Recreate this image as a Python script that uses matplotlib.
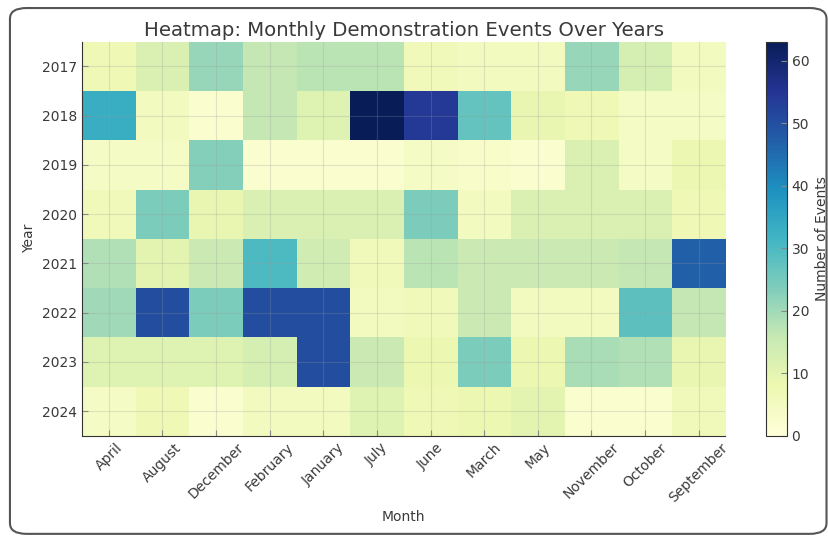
import numpy as np
import matplotlib
matplotlib.use('Agg')
import matplotlib.pyplot as plt
from matplotlib.patches import FancyBboxPatch

# Data
years = [2017, 2018, 2019, 2020, 2021, 2022, 2023, 2024]
months = ['April', 'August', 'December', 'February', 'January', 'July',
          'June', 'March', 'May', 'November', 'October', 'September']

events_2017 = [7, 12, 21, 16, 17, 17, 6, 5, 5, 21, 13, 5]
events_2018 = [33, 5, 2, 16, 11, 63, 54, 27, 9, 7, 4, 4]
events_2019 = [4, 4, 23, 2, 2, 2, 4, 3, 2, 12, 4, 8]
events_2020 = [6, 24, 9, 12, 12, 12, 24, 5, 12, 12, 12, 7]
events_2021 = [18, 10, 15, 30, 14, 6, 17, 15, 15, 15, 16, 47]
events_2022 = [20, 50, 24, 50, 50, 5, 6, 15, 5, 5, 28, 16]
events_2023 = [11, 11, 11, 13, 50, 15, 8, 24, 8, 19, 18, 9]
events_2024 = [4, 7, 2, 5, 5, 11, 7, 8, 10, 2, 2, 6]

grid = np.array([events_2017, events_2018, events_2019, events_2020,
                 events_2021, events_2022, events_2023, events_2024])

text_col = '#3a3a3a'

fig = plt.figure(figsize=(8.29, 5.36), dpi=100, facecolor='white')

# rounded frame around the figure
frame = FancyBboxPatch((0.012, 0.004), 0.985, 0.981, boxstyle='round,pad=0,rounding_size=0.02',
                       transform=fig.transFigure, fill=False, edgecolor='#555555', linewidth=1.5)
fig.patches.append(frame)

ax = fig.add_axes([0.099, 0.187, 0.776, 0.735])
cax = fig.add_axes([0.924, 0.187, 0.025, 0.735])

im = ax.imshow(grid, cmap='YlGnBu', aspect='auto', vmin=0, vmax=grid.max())

ax.set_xticks(np.arange(len(months)))
ax.set_xticklabels(months, rotation=45)
ax.set_yticks(np.arange(len(years)))
ax.set_yticklabels([str(y) for y in years])
ax.tick_params(direction='in', length=4, colors='#888888', labelcolor=text_col, labelsize=10)
ax.grid(True, color='#999999', alpha=0.25, linewidth=0.8)
for side in ['top', 'right']:
    ax.spines[side].set_visible(False)
for side in ['left', 'bottom']:
    ax.spines[side].set_color('#333333')

ax.set_title('Heatmap: Monthly Demonstration Events Over Years', fontsize=14.2,
             color=text_col, pad=4)
ax.set_xlabel('Month', color=text_col, fontsize=10)
ax.set_ylabel('Year', color=text_col, fontsize=10)

cb = fig.colorbar(im, cax=cax)
cb.set_label('Number of Events', color=text_col, fontsize=10, labelpad=4)
cb.ax.tick_params(direction='in', length=4, colors='#888888', labelcolor=text_col, labelsize=10)
cb.outline.set_edgecolor('#333333')

plt.savefig('out.png', dpi=100, facecolor='white')
plt.close()
